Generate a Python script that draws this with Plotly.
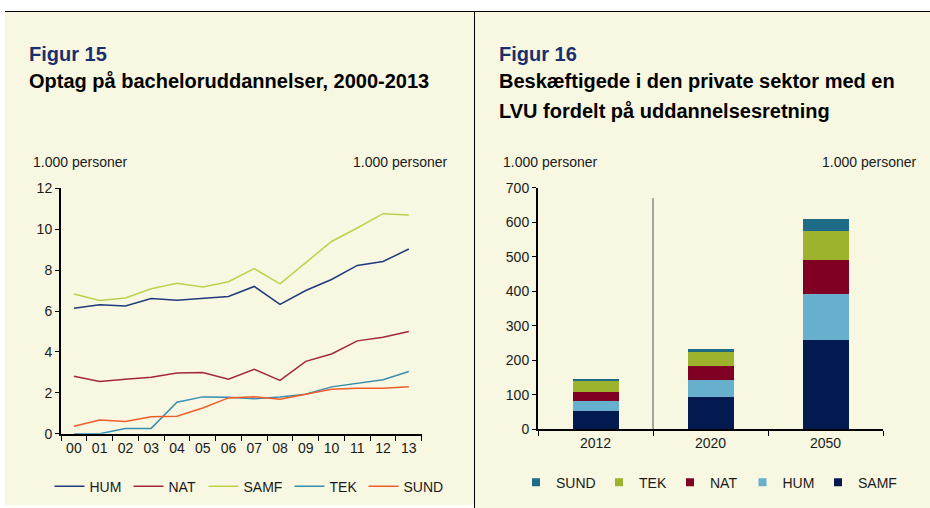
import plotly.graph_objects as go

# ---------------- data ----------------
years = ["00", "01", "02", "03", "04", "05", "06", "07", "08", "09", "10", "11", "12", "13"]
hum = [6.14, 6.30, 6.25, 6.61, 6.53, 6.62, 6.71, 7.20, 6.32, 7.00, 7.54, 8.23, 8.42, 9.03]
nat = [2.81, 2.55, 2.66, 2.76, 2.97, 2.99, 2.66, 3.15, 2.61, 3.54, 3.90, 4.54, 4.72, 5.00]
samf = [6.83, 6.51, 6.64, 7.09, 7.36, 7.17, 7.43, 8.07, 7.33, 8.38, 9.40, 10.06, 10.76, 10.69]
tek = [0.00, 0.00, 0.25, 0.26, 1.54, 1.80, 1.78, 1.71, 1.80, 1.93, 2.29, 2.45, 2.64, 3.04]
sund = [0.36, 0.67, 0.60, 0.83, 0.85, 1.26, 1.75, 1.81, 1.68, 1.94, 2.17, 2.22, 2.22, 2.30]

bar_years = ["2012", "2020", "2050"]
b_samf = [54, 94, 260]
b_hum = [29, 50, 132]
b_nat = [24, 38, 99]
b_tek = [33, 42, 85]
b_sund = [7, 9, 32]

line_ticks = [0, 2, 4, 6, 8, 10, 12]
bar_ticks = [0, 100, 200, 300, 400, 500, 600, 700]

# ---------------- helpers ----------------
W, H = 930, 508
def px(x):
    return x / W
def py(y):
    return 1 - y / H

FONT = "Liberation Sans, Arial, Helvetica, sans-serif"
TXT = "#1a1a1a"
CREAM = "#f8f8e2"

line_colors = {"HUM": "#1f3b7b", "NAT": "#a3263f", "SAMF": "#bdd14c", "TEK": "#3a8db0", "SUND": "#f05d2a"}
bar_colors = {"SAMF": "#021a4f", "HUM": "#67b0cd", "NAT": "#7f0022", "TEK": "#9db32d", "SUND": "#1d6b87"}

fig = go.Figure()

# line chart
line_series = [("HUM", hum, 34), ("NAT", nat, 30), ("SAMF", samf, 41), ("TEK", tek, 29), ("SUND", sund, 40)]
for name, vals, lw in line_series:
    fig.add_trace(go.Scatter(
        x=years, y=vals, name=name, mode="lines",
        line=dict(color=line_colors[name], width=1.5),
        xaxis="x", yaxis="y", legend="legend", legendwidth=lw,
        hoverinfo="skip"))

# bar chart
bar_series = [("SAMF", b_samf), ("HUM", b_hum), ("NAT", b_nat), ("TEK", b_tek), ("SUND", b_sund)]
for name, vals in bar_series:
    fig.add_trace(go.Bar(
        x=bar_years, y=vals, name=name, width=0.4,
        marker=dict(color=bar_colors[name], line=dict(width=0)),
        xaxis="x2", yaxis="y2", showlegend=False, legendgroup=name,
        hoverinfo="skip"))

# legend entries for bar chart (small squares)
leg2 = [("SUND", 38), ("TEK", 26), ("NAT", 27.5), ("HUM", 30.5), ("SAMF", 40)]
for name, lw in leg2:
    fig.add_trace(go.Scatter(
        x=[None], y=[None], mode="markers", name=name,
        marker=dict(symbol="square", size=8, color=bar_colors[name]),
        xaxis="x2", yaxis="y2", legend="legend2", legendgroup=name,
        legendwidth=lw, hoverinfo="skip"))

axis_common = dict(
    showgrid=False, zeroline=False, showline=True, linecolor="black", linewidth=2,
    ticks="outside", tickcolor="black", tickwidth=1,
    tickfont=dict(family=FONT, size=14, color=TXT), fixedrange=True,
)

fig.update_layout(
    width=W, height=H, autosize=False,
    margin=dict(l=0, r=0, t=0, b=0),
    paper_bgcolor="white", plot_bgcolor="rgba(0,0,0,0)",
    font=dict(family=FONT, size=14, color=TXT),
    barmode="stack",
    xaxis=dict(axis_common, domain=[px(61), px(421.7)], anchor="y", type="category",
               range=[-0.5, 13.5], tickson="boundaries", ticklen=5, automargin=False),
    yaxis=dict(axis_common, domain=[py(433.7), py(188.3)], anchor="x", range=[0, 12],
               tickvals=line_ticks, ticklen=4, automargin=False),
    yaxis3=dict(axis_common, overlaying="y", side="right", anchor="x", range=[0, 12],
                tickvals=line_ticks, ticklen=4, automargin=False),
    xaxis2=dict(axis_common, domain=[px(538), px(883)], anchor="y2", type="category",
                range=[-0.5, 2.5], tickson="boundaries", ticklen=5, automargin=False),
    yaxis2=dict(axis_common, domain=[py(429.3), py(187.7)], anchor="x2", range=[0, 700],
                tickvals=bar_ticks, ticklen=4, automargin=False),
    yaxis4=dict(axis_common, overlaying="y2", side="right", anchor="x2", range=[0, 700],
                tickvals=bar_ticks, ticklen=4, automargin=False),
    legend=dict(orientation="h", x=px(49.5), xanchor="left", y=py(486.7), yanchor="middle",
                bgcolor="rgba(0,0,0,0)", font=dict(family=FONT, size=14, color=TXT),
                itemwidth=30, traceorder="normal"),
    legend2=dict(orientation="h", x=px(516), xanchor="left", y=py(482.7), yanchor="middle",
                 bgcolor="rgba(0,0,0,0)", font=dict(family=FONT, size=14, color=TXT),
                 itemwidth=30, traceorder="normal"),
    showlegend=True,
)

shapes = [
    dict(type="rect", xref="paper", yref="paper", x0=px(5), x1=px(474), y0=py(505), y1=py(12),
         fillcolor=CREAM, line=dict(width=0), layer="below"),
    dict(type="rect", xref="paper", yref="paper", x0=px(474), x1=1, y0=0, y1=py(12),
         fillcolor=CREAM, line=dict(width=0), layer="below"),
    dict(type="line", xref="paper", yref="paper", x0=px(5), x1=1, y0=py(11.5), y1=py(11.5),
         line=dict(color="black", width=1)),
    dict(type="line", xref="paper", yref="paper", x0=px(474.5), x1=px(474.5), y0=0, y1=py(11.5),
         line=dict(color="black", width=1)),
    dict(type="line", xref="x2", yref="y2", x0=0.5, x1=0.5, y0=0, y1=670,
         line=dict(color="#555555", width=1), layer="below"),
]
fig.update_layout(shapes=shapes)

def ann(text, x, y, size=14, bold=False, color=TXT, xanchor="left"):
    t = f"<b>{text}</b>" if bold else text
    return dict(text=t, x=px(x), y=py(y), xref="paper", yref="paper", showarrow=False,
                xanchor=xanchor, yanchor="middle", font=dict(family=FONT, size=size, color=color))

NAVY = "#1b2f6d"
annotations = [
    ann("Figur 15", 27, 53.5, 20, True, NAVY),
    ann("Optag på bacheloruddannelser, 2000-2013", 27, 81, 20, True, "black"),
    ann("1.000 personer", 31, 162),
    ann("1.000 personer", 450, 162, xanchor="right"),
    ann("Figur 16", 497, 53.5, 20, True, NAVY),
    ann("Beskæftigede i den private sektor med en", 497, 81.5, 20, True, "black"),
    ann("LVU fordelt på uddannelsesretning", 497, 111, 20, True, "black"),
    ann("1.000 personer", 501, 162),
    ann("1.000 personer", 919, 162, xanchor="right"),
]
fig.update_layout(annotations=annotations)

# remove the default page margin so the 930x508 figure fills the window exactly
page_fix = (
    "document.body.style.margin='0';"
    "var s=document.createElement('style');"
    "s.textContent='.modebar-container{display:none !important;}';"
    "document.head.appendChild(s);"
)

fig.write_html("out.html", post_script=page_fix)
